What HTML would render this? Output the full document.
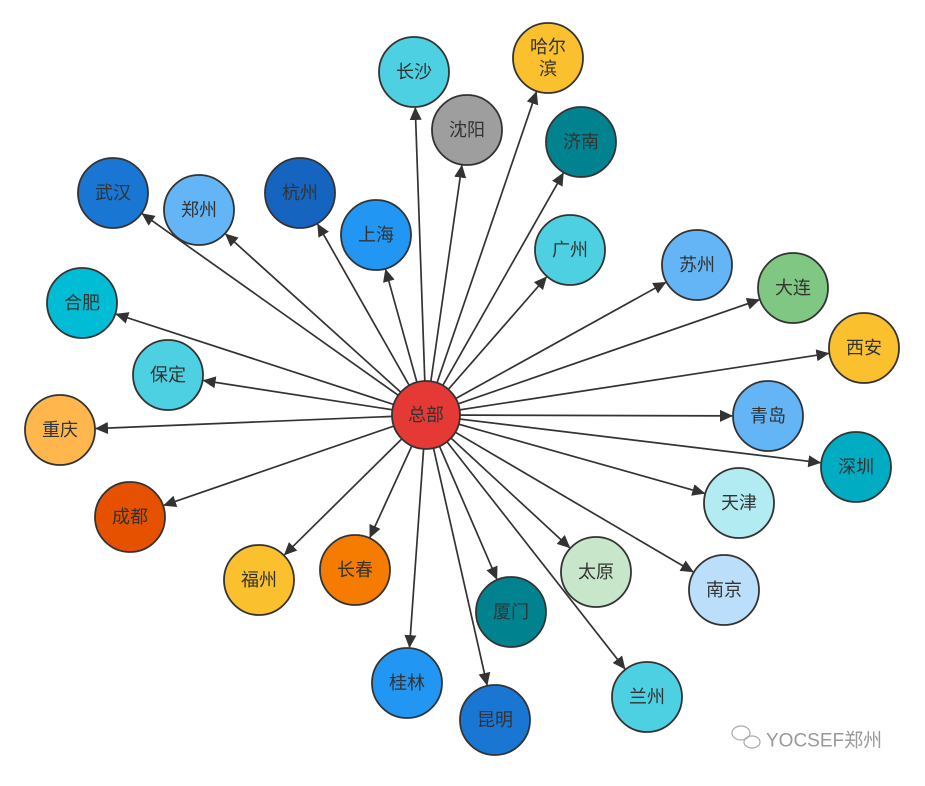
<!DOCTYPE html>
<html><head><meta charset="utf-8"><style>
body{margin:0;background:#fff;width:925px;height:781px;overflow:hidden}
svg text{font-family:"Liberation Sans","Noto Sans CJK SC",sans-serif;font-size:18px;fill:#333;text-anchor:middle;dominant-baseline:central}
</style></head><body>
<svg id="s" width="925" height="781" xmlns="http://www.w3.org/2000/svg">
<defs><marker id="a" markerWidth="13" markerHeight="12" refX="12" refY="6" orient="auto" markerUnits="userSpaceOnUse"><path d="M0,0 L13,6 L0,12 z" fill="#333"/></marker></defs>
<g id="lines" stroke="#333" stroke-width="1.7"></g>
<g stroke="#333" stroke-width="1.8">
<circle cx="414" cy="72" r="35" fill="#4dd0e1"/>
<circle cx="548" cy="58" r="35" fill="#fbc02d"/>
<circle cx="467" cy="130" r="35" fill="#9e9e9e"/>
<circle cx="581" cy="142" r="35" fill="#00838f"/>
<circle cx="113" cy="193" r="35" fill="#1976d2"/>
<circle cx="199" cy="210" r="35" fill="#64b5f6"/>
<circle cx="300" cy="193" r="35" fill="#1565c0"/>
<circle cx="376" cy="235" r="35" fill="#2196f3"/>
<circle cx="570" cy="250" r="35" fill="#4dd0e1"/>
<circle cx="697" cy="265" r="35" fill="#64b5f6"/>
<circle cx="793" cy="288" r="35" fill="#81c784"/>
<circle cx="82" cy="303" r="35" fill="#00bcd4"/>
<circle cx="864" cy="348" r="35" fill="#fbc02d"/>
<circle cx="168" cy="375" r="35" fill="#4dd0e1"/>
<circle cx="60" cy="430" r="35" fill="#ffb74d"/>
<circle cx="768" cy="416" r="35" fill="#64b5f6"/>
<circle cx="856" cy="467" r="35" fill="#00acc1"/>
<circle cx="739" cy="503" r="35" fill="#b2ebf2"/>
<circle cx="130" cy="517" r="35" fill="#e65100"/>
<circle cx="596" cy="572" r="35" fill="#c8e6c9"/>
<circle cx="724" cy="590" r="35" fill="#bbdefb"/>
<circle cx="259" cy="580" r="35" fill="#fbc02d"/>
<circle cx="355" cy="570" r="35" fill="#f57c00"/>
<circle cx="511" cy="612" r="35" fill="#00838f"/>
<circle cx="407" cy="683" r="35" fill="#2196f3"/>
<circle cx="495" cy="720" r="35" fill="#1976d2"/>
<circle cx="647" cy="697" r="35" fill="#4dd0e1"/>
<circle cx="426" cy="415" r="34" fill="#e53935"/>
</g>
<g>
<text x="414" y="72">长沙</text>
<text x="548" y="47">哈尔</text><text x="548" y="69">滨</text>
<text x="467" y="130">沈阳</text>
<text x="581" y="142">济南</text>
<text x="113" y="193">武汉</text>
<text x="199" y="210">郑州</text>
<text x="300" y="193">杭州</text>
<text x="376" y="235">上海</text>
<text x="570" y="250">广州</text>
<text x="697" y="265">苏州</text>
<text x="793" y="288">大连</text>
<text x="82" y="303">合肥</text>
<text x="864" y="348">西安</text>
<text x="168" y="375">保定</text>
<text x="60" y="430">重庆</text>
<text x="768" y="416">青岛</text>
<text x="856" y="467">深圳</text>
<text x="739" y="503">天津</text>
<text x="130" y="517">成都</text>
<text x="596" y="572">太原</text>
<text x="724" y="590">南京</text>
<text x="259" y="580">福州</text>
<text x="355" y="570">长春</text>
<text x="511" y="612">厦门</text>
<text x="407" y="683">桂林</text>
<text x="495" y="720">昆明</text>
<text x="647" y="697">兰州</text>
<text x="426" y="415">总部</text>
</g>
<g fill="none" stroke="#aaa" stroke-width="1.2">
<ellipse cx="741" cy="733" rx="9" ry="7"/><ellipse cx="752" cy="742" rx="8" ry="6"/>
</g>
<text x="766" y="741" style="text-anchor:start;font-size:19px;fill:#999">YOCSEF郑州</text>
</svg>
<script>
var c=[...document.querySelectorAll('circle')].slice(0,-1),g=document.getElementById('lines');
c.forEach(function(e){var x=+e.getAttribute('cx'),y=+e.getAttribute('cy'),dx=x-426,dy=y-415,d=Math.hypot(dx,dy),ux=dx/d,uy=dy/d;
var l=document.createElementNS('http://www.w3.org/2000/svg','line');
l.setAttribute('x1',426+ux*10);l.setAttribute('y1',415+uy*10);l.setAttribute('x2',x-ux*36);l.setAttribute('y2',y-uy*36);l.setAttribute('marker-end','url(#a)');g.appendChild(l);});
</script>
</body></html>
